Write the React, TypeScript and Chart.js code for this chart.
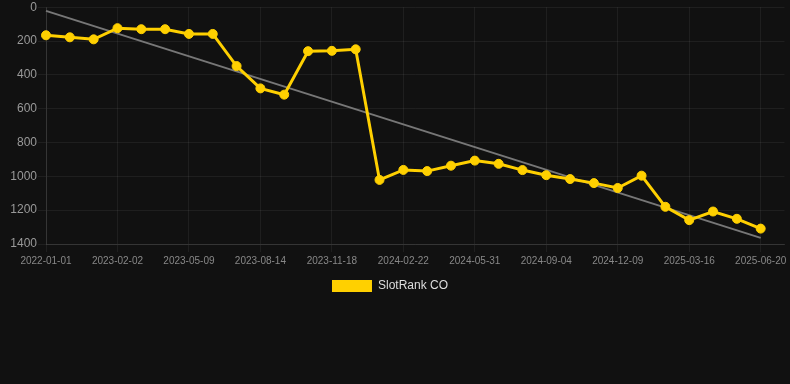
import React, { useEffect, useRef } from "react";
import { Chart, registerables } from "chart.js";

Chart.register(...registerables);

const categories: string[] = [
  "2022-01-01", "2022-12-01", "2023-01-01", "2023-02-02", "2023-03-06", "2023-04-07",
  "2023-05-09", "2023-06-10", "2023-07-12", "2023-08-14", "2023-09-15", "2023-10-17",
  "2023-11-18", "2023-12-20", "2024-01-21", "2024-02-22", "2024-03-25", "2024-04-28",
  "2024-05-31", "2024-07-02", "2024-08-03", "2024-09-04", "2024-10-06", "2024-11-07",
  "2024-12-09", "2025-01-10", "2025-02-11", "2025-03-16", "2025-04-17", "2025-05-19",
  "2025-06-20", "",
];

const rankValues: (number | null)[] = [
  166, 178, 190, 124, 130, 130, 158, 158, 348, 480, 517, 260, 258, 249,
  1021, 962, 969, 937, 907, 926, 963, 993, 1016, 1040, 1069, 996, 1180,
  1259, 1208, 1251, 1309, null,
];

const trendStart = 22;
const trendEnd = 1364;
const trendValues: (number | null)[] = categories.map((_, i) =>
  i === 0 ? trendStart : i === 30 ? trendEnd : null
);

const yTicksMax = 1400;
const yTickStep = 200;

export default function App() {
  const ref = useRef<HTMLCanvasElement | null>(null);

  useEffect(() => {
    document.body.style.margin = "0";
    document.body.style.background = "#111111";
    const ctx = ref.current;
    if (!ctx) return;
    const chart = new Chart(ctx, {
      type: "line",
      data: {
        labels: categories,
        datasets: [
          {
            label: "SlotRank CO",
            data: rankValues,
            borderColor: "#FFD000",
            backgroundColor: "#FFD000",
            borderWidth: 3,
            pointRadius: 4.5,
            pointHoverRadius: 4.5,
            pointBorderWidth: 1,
            pointBackgroundColor: "#FFD000",
            pointBorderColor: "#FFD000",
            tension: 0,
            order: 1,
          },
          {
            label: "trend",
            data: trendValues,
            borderColor: "#777777",
            backgroundColor: "#777777",
            borderWidth: 2,
            pointRadius: 0,
            spanGaps: true,
            order: 2,
          },
        ],
      },
      options: {
        responsive: false,
        animation: false,
        maintainAspectRatio: false,
        layout: { padding: 0 },
        plugins: {
          tooltip: { enabled: false },
          legend: {
            position: "bottom",
            labels: {
              color: "#dddddd",
              boxWidth: 40,
              boxHeight: 12,
              font: { family: "Liberation Sans, Arial, sans-serif", size: 12 },
              generateLabels: (c) =>
                Chart.defaults.plugins.legend.labels
                  .generateLabels(c)
                  .filter((l) => l.datasetIndex === 0)
                  .map((l) => ({ ...l, lineWidth: 0 })),
            },
          },
        },
        scales: {
          x: {
            grid: { color: "rgba(255,255,255,0.06)" },
            border: { color: "rgba(255,255,255,0.1)" },
            ticks: {
              color: "#888888",
              maxRotation: 0,
              autoSkip: true,
              maxTicksLimit: 11,
              font: { family: "Liberation Sans, Arial, sans-serif", size: 10 },
            },
          },
          y: {
            reverse: true,
            min: 0,
            max: yTicksMax,
            afterFit: (scale) => {
              scale.width = 56;
            },
            grid: { color: "rgba(255,255,255,0.06)" },
            border: { color: "rgba(255,255,255,0.1)" },
            ticks: {
              stepSize: yTickStep,
              padding: 1,
              color: "#999999",
              font: { family: "Liberation Sans, Arial, sans-serif", size: 12 },
              callback: (v) => String(v),
            },
          },
        },
      },
    });
    return () => chart.destroy();
  }, []);

  return (
    <div style={{ width: 790, height: 384, background: "#111111", overflow: "hidden" }}>
      <canvas
        ref={ref}
        width={800}
        height={303}
        style={{ display: "block", marginTop: -1, marginLeft: -10 }}
      />
    </div>
  );
}
